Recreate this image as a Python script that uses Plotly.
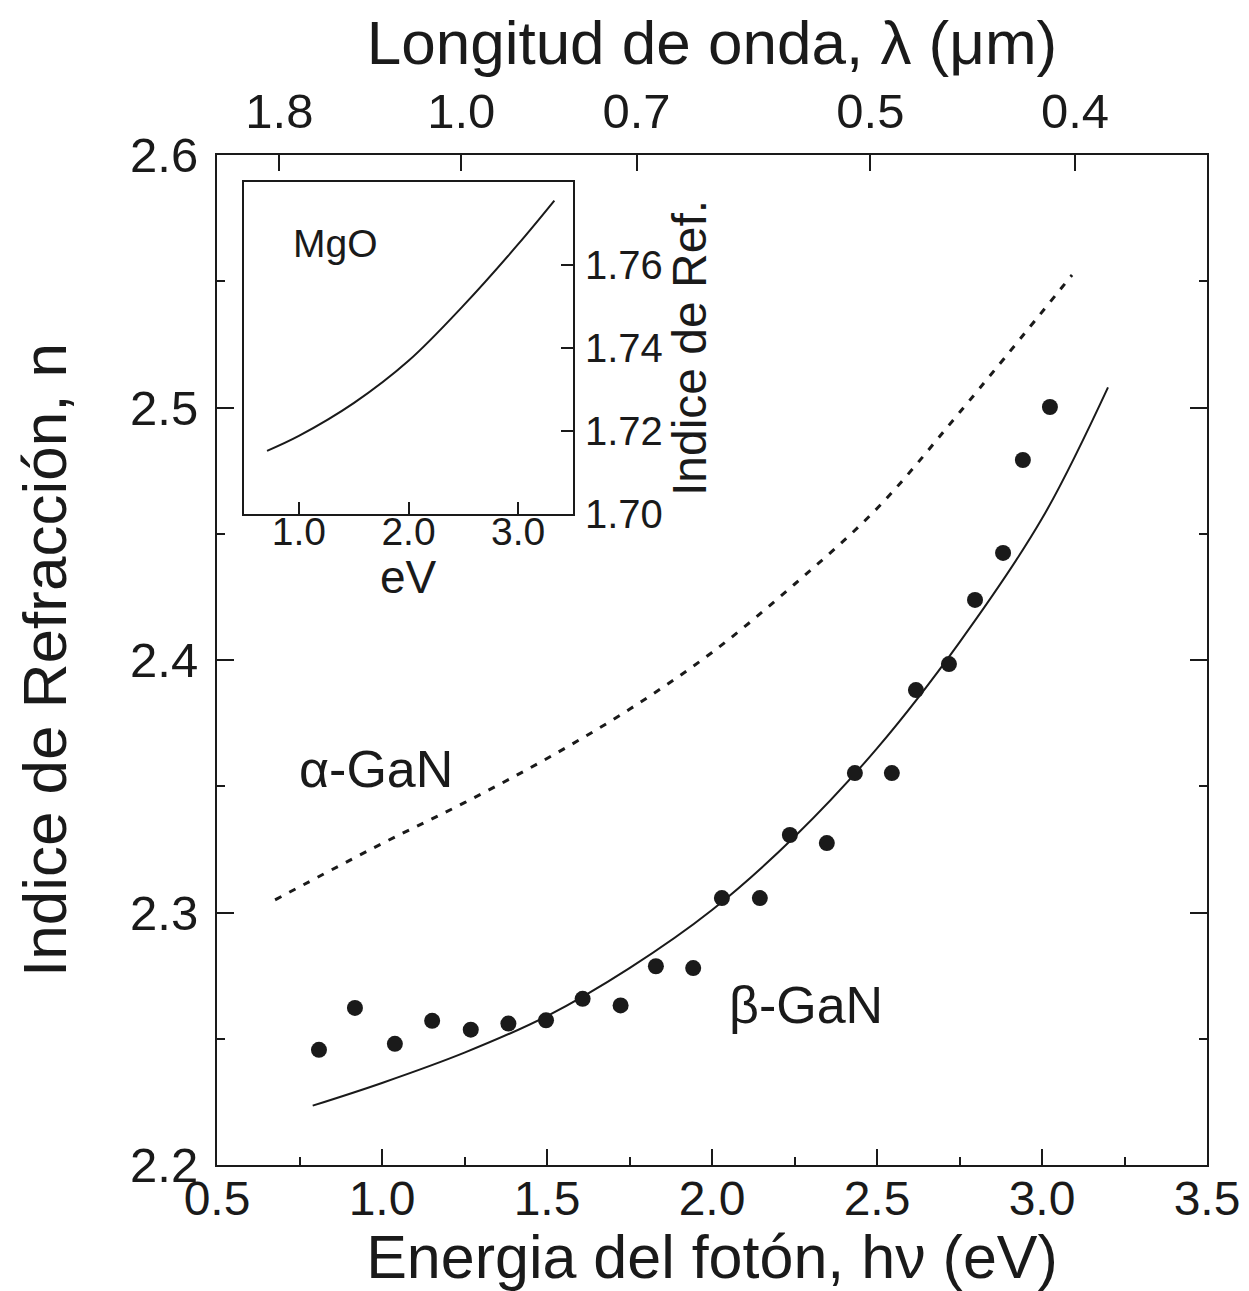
import plotly.graph_objects as go

# ---- data ----
# beta-GaN measured points: photon energy (eV), refractive index
beta_E = [0.809, 0.918, 1.039, 1.152, 1.269, 1.383, 1.497, 1.608, 1.723, 1.830, 1.943,
          2.030, 2.145, 2.236, 2.348, 2.433, 2.545, 2.618, 2.718, 2.797, 2.882, 2.942, 3.024]
beta_n = [2.2456, 2.2622, 2.2480, 2.2571, 2.2536, 2.2560, 2.2573, 2.2658, 2.2632, 2.2787, 2.2780,
          2.3057, 2.3057, 2.3307, 2.3275, 2.3552, 2.3552, 2.3881, 2.3984, 2.4238, 2.4424, 2.4792, 2.5002]

# beta-GaN fitted curve (solid)
fitB_E = [0.79, 1.0, 1.25, 1.5, 1.75, 2.0, 2.25, 2.5, 2.75, 3.0, 3.20]
fitB_n = [2.2235, 2.2325, 2.2445, 2.259, 2.278, 2.301, 2.330, 2.365, 2.407, 2.456, 2.508]

# alpha-GaN curve (dotted)
alpha_E = [0.676, 1.0, 1.25, 1.5, 1.75, 2.0, 2.25, 2.5, 2.75, 3.091]
alpha_n = [2.305, 2.3273, 2.3435, 2.361, 2.3805, 2.403, 2.430, 2.460, 2.498, 2.5525]

# MgO inset curve
mgo_E = [0.71, 1.0, 1.5, 2.0, 2.5, 3.0, 3.33]
mgo_n = [1.7152, 1.7188, 1.7267, 1.7369, 1.7502, 1.765, 1.7755]

# top axis: wavelength tick labels (um)
top_lambda = [1.8, 1.0, 0.7, 0.5, 0.4]
top_text = ["1.8", "1.0", "0.7", "0.5", "0.4"]

x_ticks = [0.5, 1.0, 1.5, 2.0, 2.5, 3.0, 3.5]
y_ticks = [2.2, 2.3, 2.4, 2.5, 2.6]
inset_x_ticks = [1.0, 2.0, 3.0]
inset_y_ticks = [1.70, 1.72, 1.74, 1.76]

FONT = "Liberation Sans, Arial, sans-serif"
BLACK = "#1a1a1a"

fig = go.Figure()

fig.add_trace(go.Scatter(x=alpha_E, y=alpha_n, mode="lines", line_shape="spline",
                         line=dict(color=BLACK, width=3, dash="7px,9px"),
                         showlegend=False, xaxis="x", yaxis="y"))
fig.add_trace(go.Scatter(x=fitB_E, y=fitB_n, mode="lines", line_shape="spline",
                         line=dict(color=BLACK, width=2),
                         showlegend=False, xaxis="x", yaxis="y"))
fig.add_trace(go.Scatter(x=beta_E, y=beta_n, mode="markers",
                         marker=dict(color=BLACK, size=16, line=dict(width=0)),
                         showlegend=False, xaxis="x", yaxis="y"))
# invisible trace to bind the top (wavelength) axis
fig.add_trace(go.Scatter(x=[0.5, 3.5], y=[2.2, 2.2], mode="lines",
                         line=dict(width=0), opacity=0, hoverinfo="skip",
                         showlegend=False, xaxis="x2", yaxis="y"))
# inset
fig.add_trace(go.Scatter(x=mgo_E, y=mgo_n, mode="lines", line_shape="spline",
                         line=dict(color=BLACK, width=2),
                         showlegend=False, xaxis="x3", yaxis="y3"))

top_vals = [1.24 / l for l in top_lambda]

fig.update_layout(
    width=1241, height=1283,
    margin=dict(l=209, r=42, t=147, b=126),
    paper_bgcolor="white", plot_bgcolor="white",
    font=dict(family=FONT, color=BLACK),
    xaxis=dict(
        domain=[0, 1], range=[0.5, 3.5], tickvals=x_ticks,
        ticktext=[f"{v:.1f}" for v in x_ticks],
        ticks="inside", ticklen=16, tickwidth=2, tickcolor=BLACK,
        minor=dict(dtick=0.25, tick0=0.5, ticks="inside", ticklen=8, tickwidth=2, tickcolor=BLACK),
        showline=True, linewidth=2, linecolor=BLACK, mirror=False,
        showgrid=False, zeroline=False, automargin=False,
        tickfont=dict(size=48), ticklabelstandoff=-10,
        title=dict(text="Energia del fotón, hν (eV)", font=dict(size=61), standoff=0),
        anchor="y",
    ),
    xaxis2=dict(
        overlaying="x", side="top", range=[0.5, 3.5], anchor="y",
        tickvals=top_vals, ticktext=top_text,
        ticks="inside", ticklen=16, tickwidth=2, tickcolor=BLACK,
        showline=True, linewidth=2, linecolor=BLACK,
        showgrid=False, zeroline=False, automargin=False,
        tickfont=dict(size=49), ticklabelstandoff=5,
        title=dict(text="Longitud de onda, λ (μm)", font=dict(size=62), standoff=0),
    ),
    yaxis=dict(
        domain=[0, 1], range=[2.2, 2.6], tickvals=y_ticks,
        ticktext=[f"{v:.1f}" for v in y_ticks],
        ticks="inside", ticklen=17, tickwidth=2, tickcolor=BLACK,
        minor=dict(dtick=0.05, tick0=2.2, ticks="inside", ticklen=8, tickwidth=2, tickcolor=BLACK),
        showline=True, linewidth=2, linecolor=BLACK, mirror="ticks",
        showgrid=False, zeroline=False, automargin=False,
        tickfont=dict(size=49), ticklabelstandoff=7,
        title=dict(text="Indice de Refracción, n", font=dict(size=62), standoff=43),
        anchor="x",
    ),
    xaxis3=dict(
        domain=[0.0273, 0.3596], range=[0.5, 3.5], anchor="y3",
        tickvals=inset_x_ticks, ticktext=[f"{v:.1f}" for v in inset_x_ticks],
        ticks="inside", ticklen=12, tickwidth=2, tickcolor=BLACK,
        showline=True, linewidth=2, linecolor=BLACK, mirror=True,
        showgrid=False, zeroline=False, automargin=False,
        tickfont=dict(size=39), ticklabelstandoff=-18,
    ),
    yaxis3=dict(
        domain=[0.6446, 0.9733], range=[1.70, 1.78], anchor="x3", side="right",
        tickvals=inset_y_ticks, ticktext=[f"{v:.2f}" for v in inset_y_ticks],
        ticks="inside", ticklen=12, tickwidth=2, tickcolor=BLACK,
        showline=True, linewidth=2, linecolor=BLACK, mirror=True,
        showgrid=False, zeroline=False, automargin=False,
        tickfont=dict(size=40), ticklabelstandoff=2,
        title=dict(text="Indice de Ref.", font=dict(size=48), standoff=4),
    ),
    annotations=[
        dict(text="eV", x=2.0, y=-0.19, xref="x3", yref="y3 domain", xanchor="center",
             yanchor="middle", showarrow=False, font=dict(size=46, family=FONT, color=BLACK)),
        dict(text="α-GaN", x=0.742, y=2.357, xref="x", yref="y", xanchor="left",
             yanchor="middle", showarrow=False, font=dict(size=52, family=FONT, color=BLACK)),
        dict(text="β-GaN", x=2.045, y=2.2634, xref="x", yref="y", xanchor="left",
             yanchor="middle", showarrow=False, font=dict(size=52, family=FONT, color=BLACK)),
        dict(text="MgO", x=0.929, y=1.7652, xref="x3", yref="y3", xanchor="left",
             yanchor="middle", showarrow=False, font=dict(size=39, family=FONT, color=BLACK)),
    ],
)

fig.write_html("out.html")
